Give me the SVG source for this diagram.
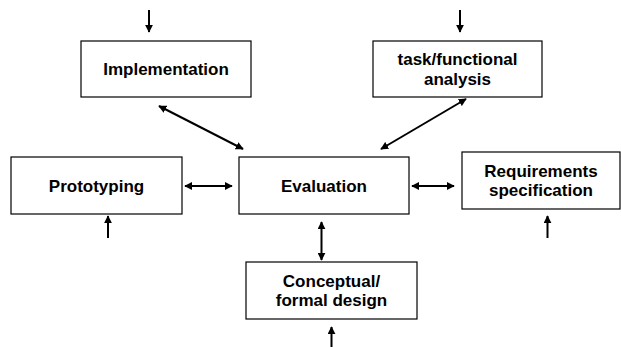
<svg xmlns="http://www.w3.org/2000/svg" width="621" height="347" viewBox="0 0 621 347">
<style>
.box{fill:#fff;stroke:#000;stroke-width:1.2}
.lbl{font-family:"Liberation Sans",Arial,sans-serif;font-weight:bold;font-size:17px;fill:#000;text-anchor:middle}
.c{stroke:#000;stroke-width:2;fill:none}
</style>
<defs>
<marker id="ah" viewBox="0 0 10 10" refX="9" refY="5" markerWidth="4" markerHeight="4" orient="auto-start-reverse" markerUnits="strokeWidth">
<path d="M0,0 L10,5 L0,10 z" fill="#000"/>
</marker>
</defs>
<rect width="621" height="347" fill="#fff"/>
<g id="connectors">
<line class="c" x1="149" y1="10" x2="149" y2="32" marker-end="url(#ah)"/>
<line class="c" x1="460" y1="10" x2="460" y2="32" marker-end="url(#ah)"/>
<line class="c" x1="159" y1="106" x2="243" y2="149" marker-start="url(#ah)" marker-end="url(#ah)"/>
<line class="c" x1="466" y1="99" x2="381" y2="149" marker-start="url(#ah)" marker-end="url(#ah)"/>
<line class="c" x1="185" y1="186" x2="232" y2="186" marker-start="url(#ah)" marker-end="url(#ah)"/>
<line class="c" x1="412" y1="186" x2="454" y2="186" marker-start="url(#ah)" marker-end="url(#ah)"/>
<line class="c" x1="321.5" y1="222" x2="321.5" y2="260" marker-start="url(#ah)" marker-end="url(#ah)"/>
<line class="c" x1="108" y1="238" x2="108" y2="216" marker-end="url(#ah)"/>
<line class="c" x1="547.5" y1="238" x2="547.5" y2="216" marker-end="url(#ah)"/>
<line class="c" x1="331.5" y1="347" x2="331.5" y2="327" marker-end="url(#ah)"/>
</g>
<g id="implementation">
<rect class="box" x="81" y="41" width="170" height="56"/>
<text class="lbl" x="166" y="75">Implementation</text>
</g>
<g id="task-analysis">
<rect class="box" x="373" y="41" width="169" height="56"/>
<text class="lbl" x="457.5" y="65">task/functional</text>
<text class="lbl" x="457.5" y="85">analysis</text>
</g>
<g id="prototyping">
<rect class="box" x="11" y="157" width="171" height="57"/>
<text class="lbl" x="96.5" y="192">Prototyping</text>
</g>
<g id="evaluation">
<rect class="box" x="239" y="157" width="170" height="57"/>
<text class="lbl" x="324" y="192">Evaluation</text>
</g>
<g id="requirements">
<rect class="box" x="462" y="152" width="158" height="57"/>
<text class="lbl" x="541" y="177">Requirements</text>
<text class="lbl" x="541" y="196">specification</text>
</g>
<g id="conceptual-design">
<rect class="box" x="246" y="262" width="171" height="57"/>
<text class="lbl" x="331.5" y="287">Conceptual/</text>
<text class="lbl" x="331.5" y="306">formal design</text>
</g>
</svg>
